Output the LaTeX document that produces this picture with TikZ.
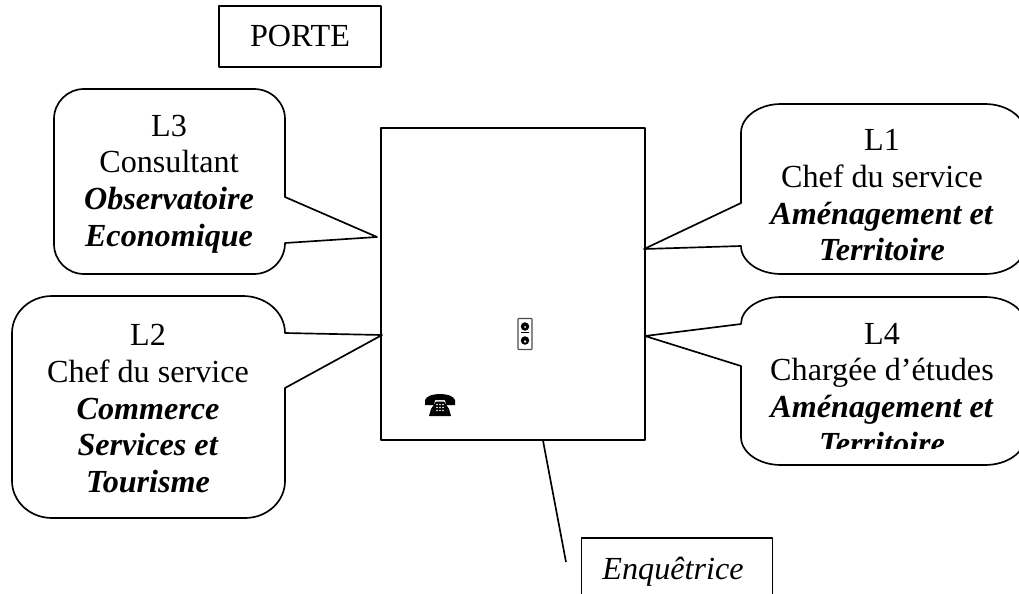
\documentclass[tikz,border=0pt]{standalone}
\usepackage{fontspec}
\setmainfont{Liberation Serif}
\usetikzlibrary{positioning,calc}

\begin{document}
\begin{tikzpicture}[line width=0.95pt, line join=round,
    box/.style={draw, rectangle, inner sep=0pt},
    bubble/.style={draw},
    label/.style={align=center, inner sep=0pt, anchor=north, font=\fontsize{18.3}{20.9}\selectfont}]

        \useasboundingbox (0,0) rectangle (20.38,-11.86);

        % Door
        \node [box, minimum width=3.24cm, minimum height=1.22cm, font=\fontsize{18.3}{20.9}\selectfont] (door) at (6.00,-0.73) {PORTE};

        % Room
        \node [box, minimum width=5.28cm, minimum height=6.23cm] (room) at (10.26,-5.68) {};

        % Telephone
        \fill (8.50,-8.10) -- (8.50,-8.00) .. controls (8.55,-7.84) and (9.05,-7.84) .. (9.10,-8.00) -- (9.10,-8.10) -- (8.92,-8.10) -- (8.90,-8.00) -- (8.70,-8.00) -- (8.68,-8.10) -- cycle;
        \fill (8.72,-8.03) -- (8.88,-8.03) -- (8.98,-8.18) -- (9.02,-8.32) -- (8.58,-8.32) -- (8.62,-8.18) -- cycle;
        \foreach \dotx in {8.74,8.80,8.86}
            \foreach \doty in {-8.09,-8.15,-8.21}
                \fill [white] (\dotx,\doty) circle (0.018);

        % Socket
        \node [draw=black!70, rounded corners=0.4pt, minimum width=0.28cm, minimum height=0.62cm, inner sep=0pt, line width=0.6pt] (socket) at (10.50,-6.68) {};
        \fill (10.50,-6.53) circle (0.085);
        \fill (10.50,-6.81) circle (0.085);
        \fill [white] (10.50,-6.54) circle (0.02);
        \fill [white] (10.50,-6.83) circle (0.025);
        \draw [line width=0.5pt] (10.42,-6.64) -- (10.58,-6.64);

        % Tips of the bubbles
        \coordinate (L3_tip) at (7.54,-4.74);
        \coordinate (L2_tip) at (7.64,-6.70);
        \coordinate (L1_tip) at (12.88,-4.98);
        \coordinate (L4_tip) at (12.90,-6.72);

        % L3
        \draw [bubble] (L3_tip) -- (5.70,-4.86) arc (0:-90:0.62) -- (1.68,-5.48) arc (270:180:0.6) -- (1.08,-2.38) arc (180:90:0.6) -- (5.08,-1.78) arc (90:0:0.62 and 0.6) -- (5.70,-3.94) -- cycle;
        \node [label] (L3) at (3.38,-2.28) {L3\\Consultant\\\textbf{\textit{Observatoire}}\\\textbf{\textit{Economique}}};

        % L2
        \draw [bubble] (L2_tip) -- (5.70,-7.76) -- (5.70,-9.62) arc (0:-90:0.8 and 0.74) -- (1.04,-10.36) arc (270:180:0.8 and 0.74) -- (0.24,-6.66) arc (180:90:0.8 and 0.74) -- (4.86,-5.92) arc (90:0:0.84 and 0.74) -- cycle;
        \node [label] (L2) at (2.96,-6.47) {L2\\Chef du service\\\textbf{\textit{Commerce}}\\\textbf{\textit{Services et}}\\\textbf{\textit{Tourisme}}};

        % L1
        \draw [bubble] (L1_tip) -- (14.82,-4.06) -- (14.82,-2.66) arc (180:90:0.8 and 0.58) -- (19.7,-2.08) arc (90:0:0.8 and 0.58) -- (20.5,-4.92) arc (0:-90:0.8 and 0.56) -- (15.62,-5.48) arc (270:180:0.8 and 0.56) -- cycle;
        \node [label] (L1) at (17.64,-2.57) {L1\\Chef du service\\\textbf{\textit{Aménagement et}}\\\textbf{\textit{Territoire}}};

        % L4
        \draw [bubble] (L4_tip) -- (14.82,-6.48) arc (180:90:0.8 and 0.54) -- (19.7,-5.94) arc (90:0:0.8 and 0.54) -- (20.5,-8.74) arc (0:-90:0.8 and 0.56) -- (15.62,-9.30) arc (270:180:0.8 and 0.56) -- (14.82,-7.32) -- cycle;
        \begin{scope}
            \clip (14.9,-5.9) rectangle (20.38,-8.96);
            \node [label] (L4) at (17.64,-6.44) {L4\\Chargée d’études\\\textbf{\textit{Aménagement et}}\\\textbf{\textit{Territoire}}};
        \end{scope}

        % Interviewer
        \node [box, minimum width=3.82cm, minimum height=1.36cm, font=\fontsize{18.3}{20.9}\selectfont\itshape] (enquetrice) at (13.54,-11.44) {Enquêtrice\kern0.16cm};
        \coordinate (enquetrice_end) at (11.32,-11.24);
        \draw (room.south -| 10.86,0) -- (enquetrice_end);

    \end{tikzpicture}
\end{document}
